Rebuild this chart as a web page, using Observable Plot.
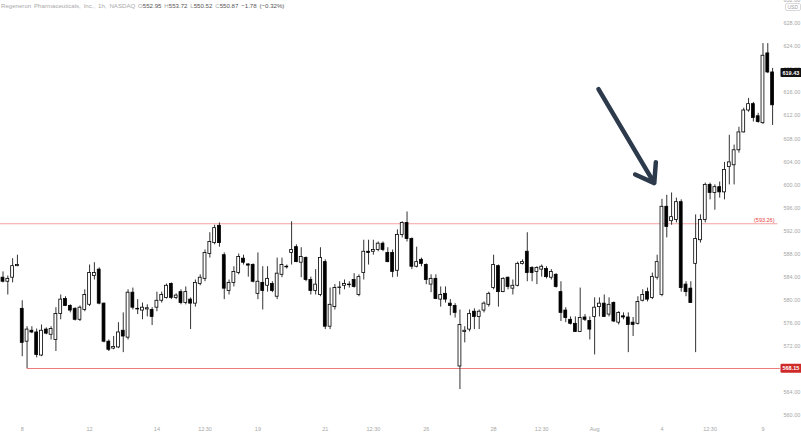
<!DOCTYPE html>
<html><head><meta charset="utf-8">
<script src="https://cdn.jsdelivr.net/npm/d3@7"></script>
<script src="https://cdn.jsdelivr.net/npm/@observablehq/plot@0.6"></script>
<style>
html,body{margin:0;padding:0;background:#fff;overflow:hidden}
#wrap{position:relative;width:801px;height:436px}
#hdr{position:absolute;left:1px;top:2px;font:6.1px "Liberation Sans",Arial,sans-serif;color:#a9a9a9;white-space:pre;line-height:8px;word-spacing:1.2px}
#hdr b{font-weight:normal;color:#555}
#usd{position:absolute;left:785px;top:3px;font:5px "Liberation Sans",Arial,sans-serif;color:#a0a0a0;border:1px solid #d8d8d8;border-radius:2px;padding:0 1.5px;line-height:6px;background:#fff}
</style></head><body>
<div id="wrap"><div id="chart"></div>
<div id="hdr">Regeneron Pharmaceuticals, Inc., 1h, NASDAQ O<b>552.95</b> H<b>553.72</b> L<b>550.52</b> C<b>550.87</b> <b>−1.78 (−0.32%)</b></div>
<div id="usd">USD</div>
</div>
<script>
const open  = [583.9,583.2,583.9,585.9,578.5,572.8,574.7,574.4,570.4,574.9,574.0,573.1,577.6,580.2,579.0,578.5,576.6,578.3,579.2,584.2,585.3,579.4,572.8,571.6,571.8,574.7,573.5,581.3,578.5,578.2,578.4,578.3,578.7,579.9,580.4,582.8,580.4,581.4,579.5,580.1,579.4,582.8,583.7,588.0,589.9,592.9,587.8,581.6,583.0,584.7,587.2,586.2,586.1,581.1,583.0,582.5,582.8,580.6,584.4,585.8,588.2,589.2,586.5,587.3,583.5,581.6,580.9,586.6,575.4,578.8,582.1,582.5,582.7,583.5,580.9,584.7,588.4,588.4,588.7,589.8,588.2,588.2,585.1,591.3,593.4,590.6,585.8,587.0,586.1,582.7,583.7,580.1,581.1,579.4,579.0,568.5,574.5,574.9,578.0,577.1,578.2,579.2,582.1,585.9,581.4,583.9,582.0,582.5,586.3,588.4,585.6,584.9,585.3,585.4,583.9,584.4,581.4,578.2,576.6,575.9,574.5,577.0,576.4,577.1,578.8,579.4,577.5,579.5,576.1,577.2,577.0,576.1,575.9,579.9,581.4,580.4,583.9,580.9,596.2,593.7,593.9,597.0,582.7,582.0,586.3,590.4,593.9,600.0,598.6,599.6,598.7,603.1,603.4,606.0,609.1,612.9,614.0,611.9,610.7,622.8,619.5];
const high  = [584.9,584.2,587.2,587.8,579.9,575.4,575.4,575.0,575.7,575.2,575.4,578.7,580.9,580.6,579.2,578.7,579.0,581.8,586.1,586.5,585.6,579.5,573.1,573.7,576.1,577.8,581.8,582.1,580.1,579.5,579.2,578.7,581.4,581.4,582.8,583.0,581.1,581.8,582.3,580.4,583.5,584.4,588.7,591.7,593.0,593.4,588.2,583.5,585.8,588.0,587.8,586.3,586.3,588.2,585.8,585.8,583.2,587.3,587.3,586.1,593.6,589.6,589.1,587.5,584.0,585.3,589.1,587.0,582.1,582.7,583.2,583.5,583.2,584.6,584.4,590.4,590.4,590.4,590.1,590.1,589.1,588.7,592.2,593.6,595.3,590.8,589.2,587.3,586.3,584.4,584.4,582.3,582.3,580.1,579.4,578.3,575.4,578.3,578.5,578.3,579.7,581.4,587.8,586.1,583.9,584.0,583.5,586.6,587.0,591.7,585.8,585.8,586.1,585.8,585.3,584.6,583.2,578.7,577.1,577.1,582.1,577.5,577.1,580.4,580.4,580.9,580.4,579.7,578.0,577.8,577.8,577.0,580.6,581.8,582.1,584.7,587.8,597.5,598.2,598.6,597.7,597.4,583.2,583.2,594.8,594.8,600.3,600.3,600.0,600.5,603.9,608.6,606.9,610.0,613.3,615.0,614.3,612.4,624.5,624.5,620.2];
const low   = [583.0,580.9,583.0,585.8,570.2,568.15,574.2,570.0,570.2,574.0,573.1,571.1,576.6,578.9,577.8,576.4,576.3,578.0,578.9,583.5,579.2,572.6,571.1,571.4,571.6,570.9,573.1,578.3,577.5,576.6,577.1,575.6,578.0,579.5,580.2,580.1,580.1,579.2,579.2,574.9,578.8,582.5,583.2,587.3,589.6,589.2,580.1,580.9,582.3,584.4,586.1,584.0,583.0,580.1,578.3,581.4,581.3,580.1,583.9,585.4,586.1,586.5,583.9,583.2,580.9,580.9,580.6,574.9,574.9,578.3,580.9,581.8,582.1,582.1,580.6,583.5,586.1,587.8,588.4,588.4,586.5,583.9,584.0,590.8,590.1,585.3,585.6,585.8,582.7,581.3,580.1,578.8,579.5,577.3,576.9,564.5,572.6,574.5,574.9,574.9,577.8,578.8,581.8,578.8,581.3,581.8,580.9,582.3,586.1,583.2,583.2,582.7,584.0,583.7,583.5,582.1,576.3,576.1,575.7,574.4,574.4,576.3,573.1,570.5,577.1,577.0,577.1,576.1,575.7,576.6,570.9,573.7,575.7,579.7,579.7,580.1,583.5,580.6,590.8,593.0,593.4,581.4,580.6,579.5,570.9,589.9,593.4,597.4,595.6,597.7,597.4,600.0,600.0,605.5,609.0,612.6,610.9,610.7,610.5,619.3,610.3];
const close = [583.2,583.7,585.9,586.1,572.6,574.9,574.4,570.5,574.7,574.2,575.0,577.6,580.1,579.0,578.2,576.6,578.7,580.9,584.7,584.7,579.4,572.8,571.4,571.9,574.4,573.7,581.3,578.7,578.4,578.7,578.6,577.1,579.9,580.9,582.5,580.4,580.8,579.5,581.4,579.4,583.0,583.9,588.2,590.1,592.5,589.9,582.0,583.0,584.9,587.5,586.5,586.0,583.2,583.2,581.6,583.7,581.6,584.6,586.1,585.7,588.7,586.6,587.5,583.5,581.6,582.7,587.3,575.4,579.2,582.1,582.2,582.8,582.6,582.3,584.0,588.4,588.2,588.7,589.8,588.7,586.6,584.9,591.3,593.4,590.6,585.8,586.6,586.3,583.5,583.7,580.2,580.9,580.1,579.0,577.8,575.7,574.7,577.6,577.1,578.0,579.4,581.1,586.1,581.4,583.7,582.3,582.5,586.3,586.6,584.7,584.7,585.6,585.8,584.0,584.9,582.3,577.8,576.9,575.9,574.5,576.9,576.6,574.9,578.7,579.4,577.1,579.2,576.3,577.8,577.0,575.7,575.7,579.7,580.9,580.1,584.0,586.6,596.2,592.7,594.4,597.0,582.1,581.4,579.5,590.6,593.9,600.0,598.6,599.6,598.7,602.6,603.9,606.0,609.1,612.9,614.0,611.6,610.9,622.4,619.5,613.8];

const xTickIdx    = [4,18,32,42,53,67,77,88,102,112,123,137,147,158];
const xTickLabels = ["8","12","14","12:30","19","21","12:30","26","28","12:30","Aug","4","12:30","9"];
const yTicks      = [560,564,568,572,576,580,584,588,592,596,600,604,608,612,616,620,624,628,632];

const resistance = 593.26;
const support = 568.15;
const supportStartIdx = 5;
const resistanceEndIdx = 161.1;
const supportEndIdx = 161.6;
const lastPrice = 619.43;
const arrowFrom = {i: 123.8, p: 616.6};
const arrowTo   = {i: 135.4, p: 600.3};

const candles = open.map((o, i) => ({i, o, h: high[i], l: low[i], c: close[i], up: close[i] >= o}));

const font = "Liberation Sans, Arial, sans-serif";
const chart = Plot.plot({
  width: 801, height: 436,
  marginLeft: 0, marginRight: 21, marginTop: 0, marginBottom: 12,
  x: {domain: [0, 160], range: [2.5, 772.1], axis: null},
  y: {domain: [560, 624], range: [415, 46], axis: null},
  style: {background: "#fff", fontFamily: font},
  marks: [
    Plot.ruleY([resistance], {y: d => d, x1: () => -1, x2: () => resistanceEndIdx, stroke: "#f5a3a3", strokeWidth: 1}),
    Plot.ruleY([support], {y: d => d, x1: () => supportStartIdx, x2: () => supportEndIdx, stroke: "#ec7b7b", strokeWidth: 1}),
    Plot.ruleX(candles, {x: "i", y1: "l", y2: "h", stroke: "#333", strokeWidth: 1}),
    Plot.rect(candles, {
      x1: d => d.i - 0.3, x2: d => d.i + 0.3,
      y1: d => Math.min(d.o, d.c), y2: d => Math.max(d.o, d.c),
      fill: d => d.up ? "#fff" : "#000", stroke: "#000", strokeWidth: 0.8
    }),
    Plot.axisY({ticks: yTicks, anchor: "right", tickSize: 0, tickPadding: 3, tickFormat: d3.format(".2f"), fontSize: 5.5, fill: "#a6a6a6", textAnchor: "start", label: null}),
    Plot.axisX({ticks: xTickIdx, tickFormat: d => xTickLabels[xTickIdx.indexOf(d)], tickSize: 0, tickPadding: 3, fontSize: 5.5, fill: "#a6a6a6", label: null}),
    Plot.text([resistance], {y: d => d, text: d => `(${d3.format(".2f")(d)})`, frameAnchor: "right", textAnchor: "end", dx: -6, dy: -4, fill: "#e5443e", fontSize: 5.5}),
    Plot.text([support], {y: d => d, text: d => d3.format(".2f")(d), frameAnchor: "right", textAnchor: "start", dx: 2, fill: "#fff", fontSize: 5.5, fontWeight: "bold", className: "tag-red"}),
    Plot.text([lastPrice], {y: d => d, text: d => d3.format(".2f")(d), frameAnchor: "right", textAnchor: "start", dx: 2, fill: "#fff", fontSize: 5.5, fontWeight: "bold", className: "tag-black"}),
    Plot.arrow([{a: arrowFrom, b: arrowTo}], {x1: d => d.a.i, y1: d => d.a.p, x2: d => d.b.i, y2: d => d.b.p, stroke: "#2d3a4c", strokeWidth: 4.5, headLength: 7, headAngle: 70})
  ]
});
document.getElementById("chart").appendChild(chart);

for (const [cls, col] of [["tag-red", "#cf2a2a"], ["tag-black", "#111"]]) {
  d3.select(chart).selectAll(`.${cls} text`).each(function () {
    const b = this.getBBox();
    const t = this.getAttribute("transform");
    const r = d3.select(this.parentNode).insert("rect", () => this)
      .attr("x", b.x - 2).attr("y", b.y - 1.5).attr("width", b.width + 10).attr("height", b.height + 3)
      .attr("fill", col).attr("rx", 1);
    if (t) r.attr("transform", t);
  });
}
</script>
</body></html>
